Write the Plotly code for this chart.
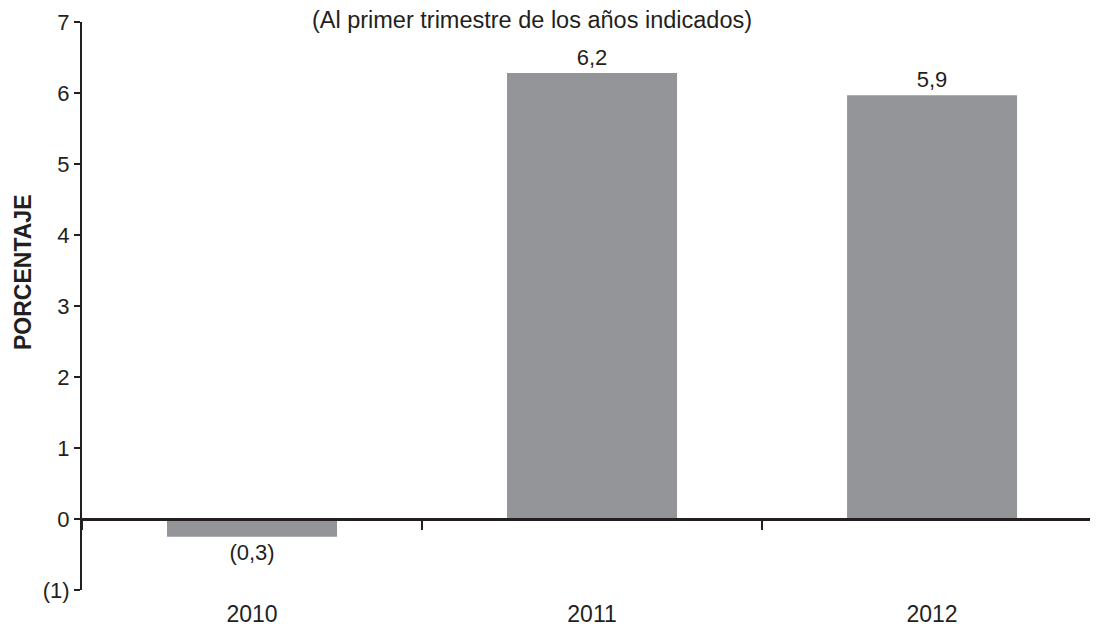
import plotly.graph_objects as go

# Data
years = ['2010', '2011', '2012']
growth = [-0.25, 6.28, 5.97]          # bar heights as drawn
labels = ['(0,3)', '6,2', '5,9']      # printed values
y_ticks = [-1, 0, 1, 2, 3, 4, 5, 6, 7]
y_ticktext = ['(1)', '0', '1', '2', '3', '4', '5', '6', '7']

FONT = 'Liberation Sans, Arial, sans-serif'
BAR = '#939598'

fig = go.Figure()
fig.add_trace(go.Bar(
    x=years, y=growth, width=0.5,
    marker=dict(color=BAR, line=dict(width=0)),
    text=labels, textposition='outside', cliponaxis=False,
    textfont=dict(size=22, color='#231f20', family=FONT),
))

# the page body adds an 8px margin, so the figure is 8px smaller
W, H = 1090, 618
top, bottom = 14, 36
# x axis drawn on the zero line, labels pushed down to the bottom
zero_pos = (0 - y_ticks[0]) / (y_ticks[-1] - y_ticks[0])

fig.update_layout(
    width=W, height=H,
    margin=dict(l=74, r=0, t=top, b=bottom, autoexpand=False),
    plot_bgcolor='white', paper_bgcolor='white',
    showlegend=False,
    font=dict(family=FONT, color='#231f20'),
    title=dict(text='(Al primer trimestre de los años indicados)',
               x=524 / W, xanchor='center', xref='container',
               y=1 - 12 / H, yanchor='middle', yref='container',
               font=dict(size=23.5, color='#231f20')),
    xaxis=dict(type='category', range=[-0.5, 2.488], automargin=False,
               anchor='free', position=zero_pos,
               showline=True, linecolor='#231f20', linewidth=2.5,
               ticks='outside', tickson='boundaries', ticklen=9,
               tickwidth=2, tickcolor='#231f20',
               ticklabelstandoff=74,
               tickfont=dict(size=23), showgrid=False),
    yaxis=dict(range=[-1, 7], tickvals=y_ticks, ticktext=y_ticktext,
               automargin=False,
               showline=True, linecolor='#231f20', linewidth=2,
               ticks='outside', ticklen=6, tickwidth=2, tickcolor='#231f20',
               tickfont=dict(size=22), showgrid=False, zeroline=False),
    annotations=[dict(text='<b>PORCENTAJE</b>', textangle=-90,
                      xref='paper', yref='paper',
                      x=(23 - 82) / 1016, y=(590 - 272) / 568,
                      xanchor='center', yanchor='middle', showarrow=False,
                      font=dict(size=23, color='#231f20'))],
)

fig.write_html('out.html')
